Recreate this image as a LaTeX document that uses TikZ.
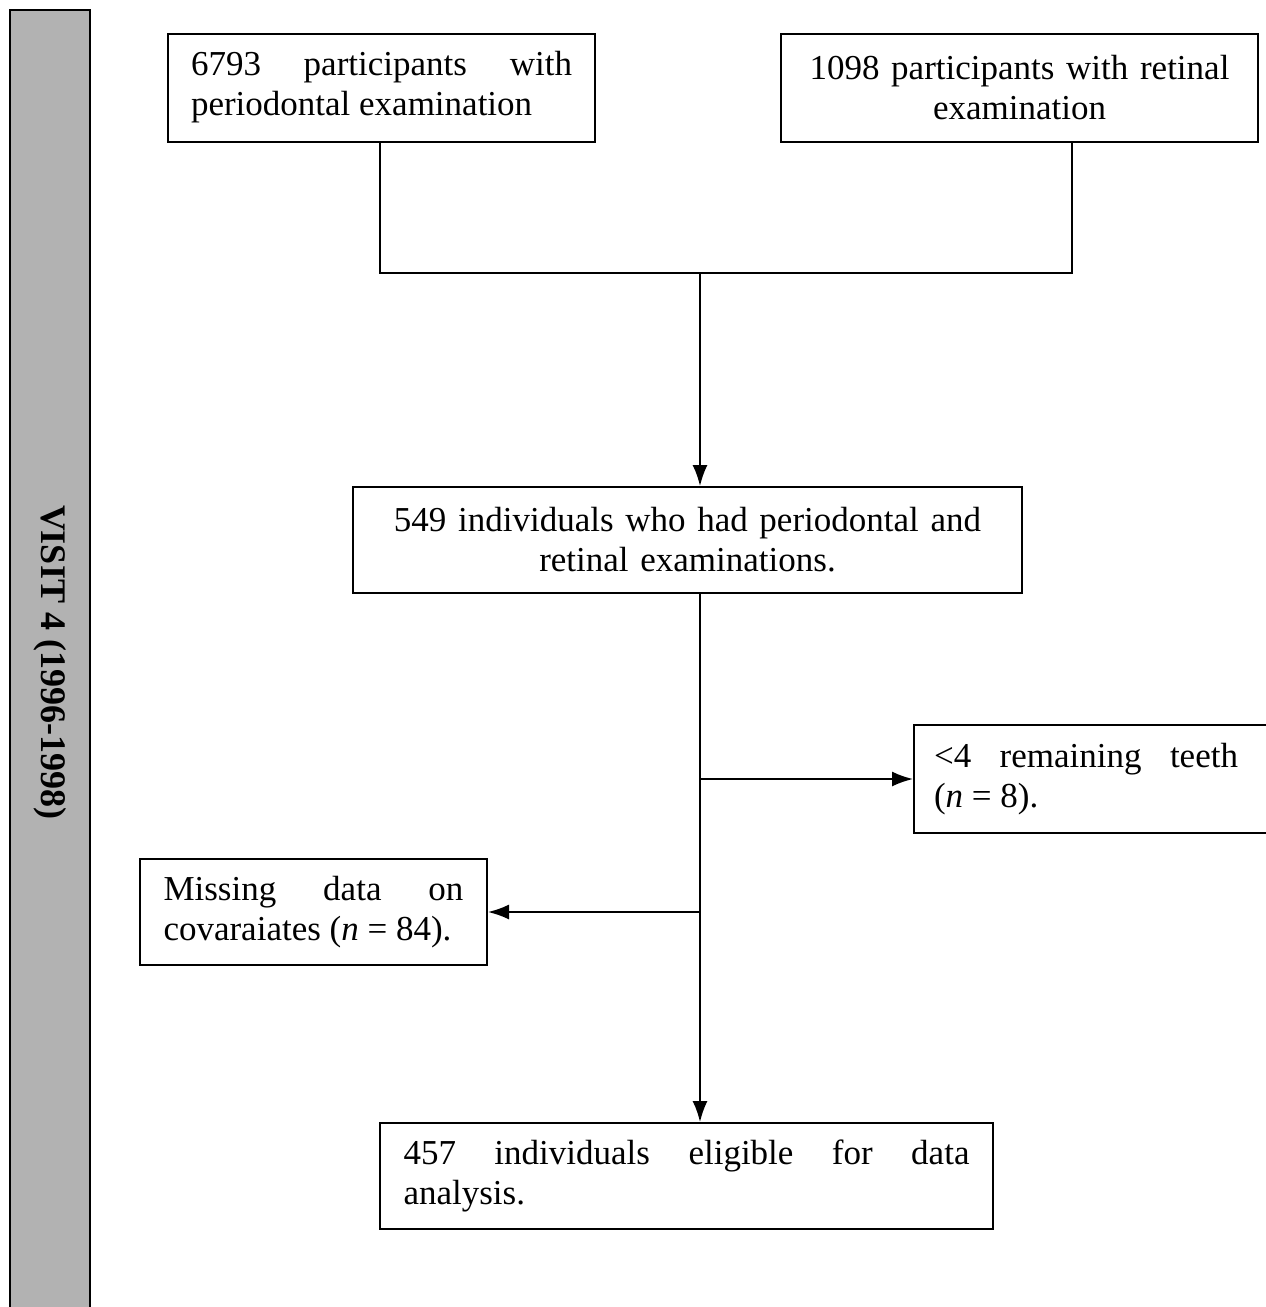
\documentclass[tikz,border=0pt]{standalone}
\usepackage{fontspec}
\setmainfont{Liberation Serif}
\usepackage{tikz}
\usetikzlibrary{arrows.meta}
\definecolor{bar_grey}{RGB}{178, 178, 178}
\tikzstyle{box}=[rectangle,draw=black,fill=white,line width=2pt,
  font=\fontsize{35}{40}\selectfont,inner xsep=23pt,minimum height=108pt]
\tikzstyle{jbox}=[box,align=justify]
\tikzstyle{cbox}=[box,align=center]
\tikzstyle{link}=[line width=1.8pt]
\tikzstyle{flow}=[line width=1.8pt,-{Latex[length=21pt,width=15pt]}]

\begin{document}
\begin{tikzpicture}[x=1pt,y=-1pt]
    \useasboundingbox (0,0) rectangle (1266,1307);
    \node [rectangle,fill=bar_grey,draw=black,line width=2pt,rotate=-90,
      minimum width=1304pt,minimum height=80pt,
      font=\fontsize{36}{40}\selectfont\bfseries] (visit) at (50,662) {VISIT 4 (1996-1998)};
    \node [style=jbox,text width=381pt] (perio) at (381.5,87.5)
      {6793 participants with\linebreak periodontal examination};
    \node [style=cbox,text width=431pt] (retina) at (1019.5,87.5)
      {1098 participants with retinal\\examination};
    \node [style=cbox,text width=623pt,minimum height=106pt] (both) at (687.5,540)
      {549 individuals who had periodontal and\\retinal examinations.};
    \node [style=jbox,anchor=west,inner xsep=20pt,text width=380pt] (teeth) at (913,779)
      {\parbox{304pt}{<4 remaining teeth\linebreak(\textit{n} = 8).}};
    \node [style=jbox,text width=300pt,inner xsep=23.5pt,minimum height=106pt] (missing) at (313.5,912)
      {Missing data on\linebreak covaraiates (\textit{n} = 84).};
    \node [style=jbox,text width=566pt,inner xsep=23.5pt,minimum height=106pt] (final) at (686.5,1176)
      {457 individuals eligible for data\linebreak analysis.};
    \coordinate (joinl) at (380,273);
    \coordinate (joinr) at (1072,273);
    \coordinate (joinm) at (700,273);
    \coordinate (split1) at (700,779);
    \coordinate (split2) at (700,912);
    \draw [style=link] (perio.south -| joinl) to (joinl) to (joinr) to (retina.south -| joinr);
    \draw [style=flow] (joinm) to (both.north -| joinm);
    \draw [style=flow] (both.south -| joinm) to (final.north -| joinm);
    \draw [style=flow] (split1) to (split1 -| teeth.west);
    \draw [style=flow] (split2) to (split2 -| missing.east);
  \end{tikzpicture}
\end{document}
